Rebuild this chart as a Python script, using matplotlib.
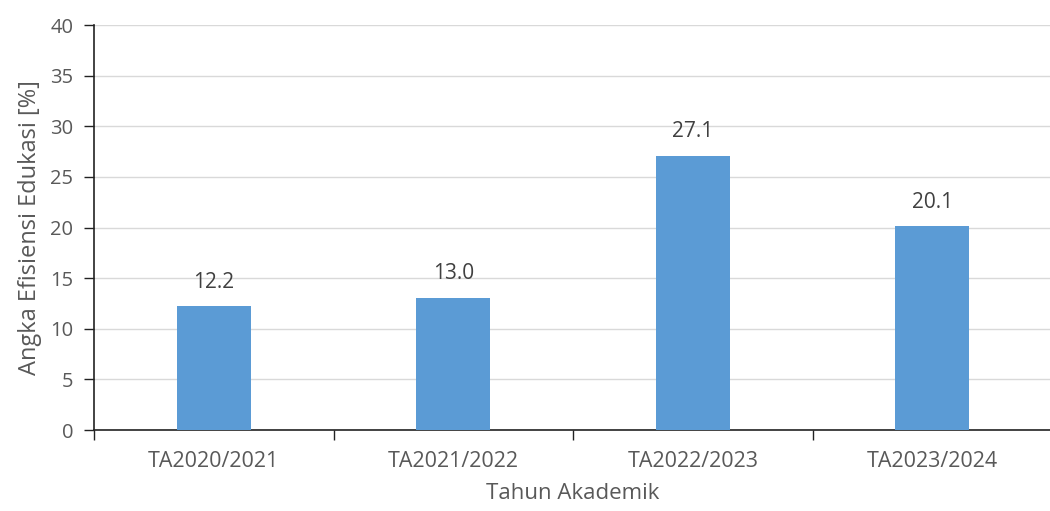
import matplotlib
matplotlib.use("Agg")
import matplotlib.pyplot as plt

categories = ["TA2020/2021", "TA2021/2022", "TA2022/2023", "TA2023/2024"]
values = [12.2, 13.0, 27.1, 20.1]
y_ticks = [0, 5, 10, 15, 20, 25, 30, 35, 40]

plt.rcParams["font.family"] = ["Open Sans", "DejaVu Sans"]
text_color = "#595959"
bar_color = "#5B9BD5"

fig = plt.figure(figsize=(10.5, 5.11), dpi=100)
ax = fig.add_axes([94 / 1050, 1 - 430 / 511, 958 / 1050, 405 / 511])

x = list(range(len(categories)))
bars = ax.bar(x, values, width=0.31, color=bar_color, zorder=3)

for xi, v in zip(x, values):
    ax.annotate(f"{v:.1f}", (xi, v), xytext=(0, 10), textcoords="offset points",
                ha="center", va="bottom", fontsize=15, color="#404040")

ax.set_xlim(-0.5, len(categories) - 0.5)
ax.set_ylim(0, 40)
ax.set_yticks(y_ticks)
ax.yaxis.grid(True, color="#d9d9d9", linewidth=1, zorder=0)
ax.set_axisbelow(True)

# category labels centered, ticks between categories
ax.set_xticks(x)
ax.set_xticklabels(categories)
ax.tick_params(axis="x", length=0, pad=15, labelsize=15.5, labelcolor=text_color)
ax.set_xticks([i - 0.5 for i in range(len(categories) + 1)], minor=True)
ax.tick_params(axis="x", which="minor", length=7, width=1, color="#222222", direction="out")
ax.tick_params(axis="y", length=7, width=1, color="#222222", direction="out",
               pad=8, labelsize=14.5, labelcolor=text_color)

for side in ("top", "right"):
    ax.spines[side].set_visible(False)
for side in ("left", "bottom"):
    ax.spines[side].set_color("#222222")
    ax.spines[side].set_linewidth(1.2)

ax.set_xlabel("Tahun Akademik", fontsize=16, color=text_color, labelpad=8)
ax.set_ylabel("Angka Efisiensi Edukasi [%]", fontsize=17, color=text_color, labelpad=6)

fig.savefig("out.png", dpi=100)
